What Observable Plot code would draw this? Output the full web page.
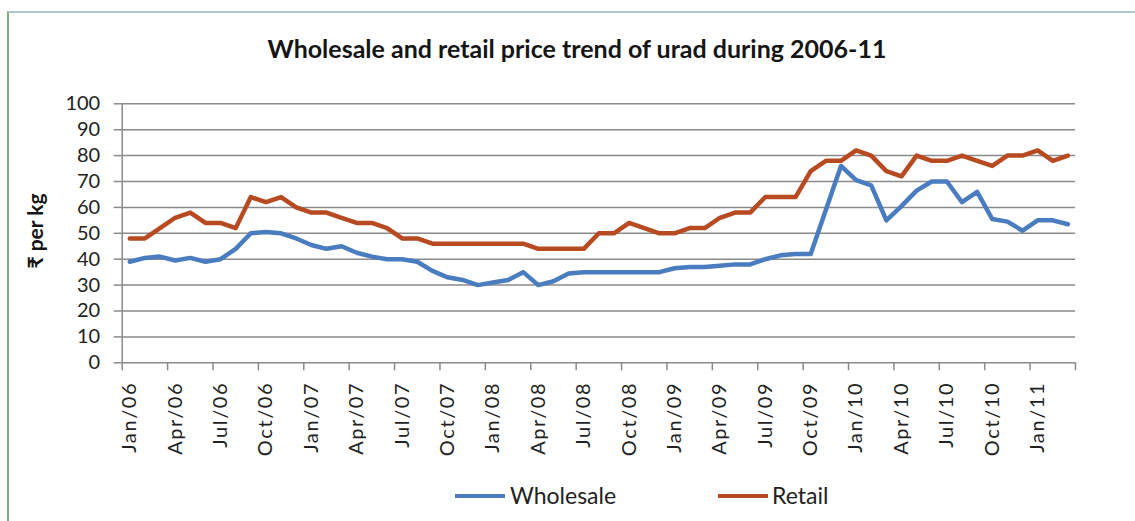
<!DOCTYPE html>
<html><head><meta charset="utf-8">
<script src="https://cdn.jsdelivr.net/npm/d3@7"></script>
<script src="https://cdn.jsdelivr.net/npm/@observablehq/plot@0.6"></script>
<style>
body{margin:0;background:#fff;}
#wrap{position:relative;width:1135px;height:521px;overflow:hidden;font-family:Lato,"Noto Sans",sans-serif;background:#fff;}
#frame{position:absolute;left:7px;top:11px;width:1140px;height:520px;border-left:2px solid #7fae7f;border-top:2px solid #a9c9cc;}
#title{position:absolute;top:33px;left:0;width:1154px;text-align:center;font-weight:bold;font-size:25px;color:#151515;}
#chart{position:absolute;left:0;top:80px;}
#ylab{position:absolute;left:34px;top:231px;transform:translate(-50%,-50%) rotate(-90deg);font-weight:bold;font-size:21px;color:#151515;white-space:nowrap;}
.lg{position:absolute;top:481px;font-size:23px;color:#222;}
.sw{position:absolute;height:4px;top:494px;}
</style></head>
<body><div id="wrap">
<div id="frame"></div>
<div id="title">Wholesale and retail price trend of urad during 2006-11</div>
<div id="ylab">₹ per kg</div>
<div id="chart"></div>
<div class="sw" style="left:455px;width:50px;background:#4a7cc0"></div>
<div class="lg" style="left:510px">Wholesale</div>
<div class="sw" style="left:718px;width:50px;background:#b84a22"></div>
<div class="lg" style="left:772px">Retail</div>
</div>
<script>
const months = ["Jan/06","Feb/06","Mar/06","Apr/06","May/06","Jun/06","Jul/06","Aug/06","Sep/06","Oct/06","Nov/06","Dec/06",
"Jan/07","Feb/07","Mar/07","Apr/07","May/07","Jun/07","Jul/07","Aug/07","Sep/07","Oct/07","Nov/07","Dec/07",
"Jan/08","Feb/08","Mar/08","Apr/08","May/08","Jun/08","Jul/08","Aug/08","Sep/08","Oct/08","Nov/08","Dec/08",
"Jan/09","Feb/09","Mar/09","Apr/09","May/09","Jun/09","Jul/09","Aug/09","Sep/09","Oct/09","Nov/09","Dec/09",
"Jan/10","Feb/10","Mar/10","Apr/10","May/10","Jun/10","Jul/10","Aug/10","Sep/10","Oct/10","Nov/10","Dec/10",
"Jan/11","Feb/11","Mar/11"];
const wholesale = [39,40.5,41,39.5,40.5,39,40,44,50,50.5,50,48,
45.5,44,45,42.5,41,40,40,39,35.5,33,32,30,
31,32,35,30,31.5,34.5,35,35,35,35,35,35,
36.5,37,37,37.5,38,38,40,41.5,42,42,59,76,
70.5,68.5,55,60.5,66.5,70,70,62,66,55.5,54.5,51,
55,55,53.5];
const retail = [48,48,52,56,58,54,54,52,64,62,64,60,
58,58,56,54,54,52,48,48,46,46,46,46,
46,46,46,44,44,44,44,50,50,54,52,50,
50,52,52,56,58,58,64,64,64,74,78,78,
82,80,74,72,80,78,78,80,78,76,80,80,
82,78,80];
const seriesNames = ["Wholesale","Retail"];
const seriesColors = ["#4a7cc0","#b84a22"];
const yTicks = [0,10,20,30,40,50,60,70,80,90,100];
const labelMonths = ["Jan/06","Apr/06","Jul/06","Oct/06","Jan/07","Apr/07","Jul/07","Oct/07","Jan/08","Apr/08","Jul/08","Oct/08","Jan/09","Apr/09","Jul/09","Oct/09","Jan/10","Apr/10","Jul/10","Oct/10","Jan/11"];

const rows = [];
months.forEach((m,i)=>{
  rows.push({i, v: wholesale[i], s: "Wholesale"});
  rows.push({i, v: retail[i], s: "Retail"});
});
const labelIdx = labelMonths.map(m => months.indexOf(m));
const boundaries = d3.range(0, months.length + 1, 3).map(k => k - 0.5);

const chart = Plot.plot({
  width: 1135, height: 390,
  marginTop: 23.3, marginBottom: 107.7, marginLeft: 121.7, marginRight: 60,
  x: {type: "linear", domain: [-0.5, months.length - 0.5]},
  y: {domain: [0, 100]},
  color: {domain: seriesNames, range: seriesColors},
  style: {fontFamily: "Lato, 'Noto Sans', sans-serif", color: "#222", background: "transparent"},
  marks: [
    Plot.ruleY(yTicks, {stroke: "#8a8a8a", strokeWidth: 1.5}),
    Plot.ruleX([-0.5], {stroke: "#8a8a8a", strokeWidth: 1.5}),
    Plot.axisY(yTicks, {tickSize: 8, tickPadding: 14, fontSize: 20, stroke: "#8a8a8a", strokeWidth: 1.5, label: null, fill: "#222"}),
    Plot.axisX(boundaries, {tickSize: 8, tickFormat: () => "", stroke: "#8a8a8a", strokeWidth: 1.5, label: null}),
    Plot.axisX(labelIdx, {tickSize: 0, tickPadding: 19, tickRotate: -90, tickFormat: i => months[i], fontSize: 20, label: null, fill: "#222"}),
    Plot.line(rows, {x: "i", y: "v", z: "s", stroke: "s", strokeWidth: 4.5, strokeLinejoin: "round"})
  ]
});
chart.querySelectorAll("g[aria-label='x-axis tick label'] text").forEach(t => t.style.letterSpacing = "1.6px");
document.getElementById("chart").appendChild(chart);
</script>
</body></html>
